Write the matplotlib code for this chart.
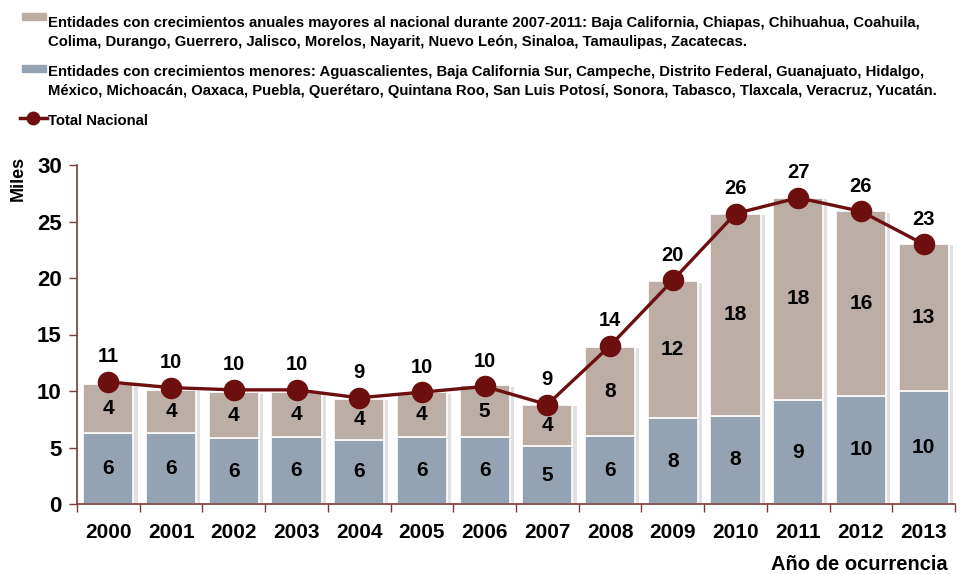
import matplotlib
matplotlib.use("Agg")
import matplotlib.pyplot as plt
import matplotlib.patheffects as pe
from matplotlib.patches import Rectangle
from matplotlib.lines import Line2D
import numpy as np

plt.rcParams['font.family'] = ['Liberation Sans', 'DejaVu Sans']
plt.rcParams['font.weight'] = 'bold'

# datos (miles)
anios = ['2000', '2001', '2002', '2003', '2004', '2005', '2006',
         '2007', '2008', '2009', '2010', '2011', '2012', '2013']
menores = [6.3, 6.3, 5.8, 5.9, 5.7, 5.9, 5.9, 5.1, 6.0, 7.6, 7.8, 9.2, 9.6, 10.0]
mayores = [4.3, 3.8, 4.1, 4.0, 3.6, 4.0, 4.6, 3.7, 7.9, 12.1, 17.9, 17.9, 16.3, 13.0]
total = [10.8, 10.3, 10.1, 10.1, 9.4, 9.9, 10.4, 8.8, 14.0, 19.8, 25.7, 27.1, 25.9, 23.0]

txt_mayores = ['Entidades con crecimientos anuales mayores al nacional durante 2007-2011: '
               'Baja California, Chiapas, Chihuahua, Coahuila,',
               'Colima, Durango, Guerrero, Jalisco, Morelos, Nayarit, Nuevo León, '
               'Sinaloa, Tamaulipas, Zacatecas.']
txt_menores = ['Entidades con crecimientos menores: Aguascalientes, Baja California Sur, '
               'Campeche, Distrito Federal, Guanajuato, Hidalgo,',
               'México, Michoacán, Oaxaca, Puebla, Querétaro, Quintana Roo, '
               'San Luis Potosí, Sonora, Tabasco, Tlaxcala, Veracruz, Yucatán.']
txt_total = 'Total Nacional'

c_menores = '#94A3B3'
c_mayores = '#BCADA5'
c_total = '#6E0F0F'
c_eje = '#7A3A3A'

W, H = 961, 574
fig = plt.figure(figsize=(W / 100, H / 100), dpi=100)
ax = fig.add_axes([77 / W, 1 - 504 / H, (955 - 77) / W, (504 - 165) / H])

x = np.arange(len(anios))
sombra = [pe.SimplePatchShadow(offset=(3, -1), shadow_rgbFace='#9a9a9a', alpha=0.3), pe.Normal()]
b1 = ax.bar(x, menores, width=0.8, color=c_menores, edgecolor='white', linewidth=1.2, zorder=2)
b2 = ax.bar(x, mayores, width=0.8, bottom=menores, color=c_mayores, edgecolor='white',
            linewidth=1.2, zorder=2)
for p in list(b1) + list(b2):
    p.set_path_effects(sombra)

ax.bar_label(b1, labels=[f'{v:.0f}' for v in menores], label_type='center',
             fontsize=15, fontweight='bold', color='black')
ax.bar_label(b2, labels=[f'{v:.0f}' for v in mayores], label_type='center',
             fontsize=15, fontweight='bold', color='black')

ax.plot(x, total, color=c_total, lw=2.4, marker='o', markersize=14.5, zorder=4)
for xi, v in zip(x, total):
    ax.annotate(f'{v:.0f}', (xi, v), xytext=(0, 18), textcoords='offset points',
                ha='center', va='center', fontsize=14.5, fontweight='bold')

ax.set_xlim(-0.5, len(anios) - 0.5)
ax.set_ylim(0, 30)
ax.set_yticks(range(0, 31, 5))
ax.set_xticks(x)
ax.set_xticklabels(anios)
ax.set_xticks(np.arange(-0.5, len(anios), 1), minor=True)
ax.tick_params(axis='x', which='major', length=0, pad=14, labelsize=15)
ax.tick_params(axis='x', which='minor', length=6, color=c_eje, width=1)
ax.tick_params(axis='y', length=6, color=c_eje, width=1, labelsize=16, pad=5)
for lab in ax.get_xticklabels() + ax.get_yticklabels():
    lab.set_fontweight('bold')
for s in ['top', 'right']:
    ax.spines[s].set_visible(False)
for s in ['left', 'bottom']:
    ax.spines[s].set_color(c_eje)
    ax.spines[s].set_linewidth(1.2)

fig.text(18 / W, 1 - 178 / H, 'Miles', rotation=90, ha='center', va='center',
         fontsize=13, fontweight='bold')
fig.text(948 / W, 1 - 570 / H, 'Año de ocurrencia', ha='right', va='baseline',
         fontsize=14.5, fontweight='bold')

# leyenda
fig.add_artist(Rectangle((22 / W, 1 - 20 / H), 24 / W, 7 / H, transform=fig.transFigure,
                         color=c_mayores))
fig.add_artist(Rectangle((22 / W, 1 - 72 / H), 24 / W, 7 / H, transform=fig.transFigure,
                         color=c_menores))
for linea, yb in zip(txt_mayores + txt_menores, [27, 46, 76, 95]):
    fig.text(48 / W, 1 - yb / H, linea, ha='left', va='baseline', fontsize=10.75,
             fontweight='bold')
fig.add_artist(Line2D([20 / W, 47 / W], [1 - 118 / H, 1 - 118 / H], transform=fig.transFigure,
                      color=c_total, lw=2.5))
fig.add_artist(Line2D([33 / W], [1 - 118 / H], transform=fig.transFigure,
                      color=c_total, marker='o', markersize=9))
fig.text(48 / W, 1 - 125 / H, txt_total, ha='left', va='baseline', fontsize=10.75,
         fontweight='bold')

fig.savefig('out.png', dpi=100)
